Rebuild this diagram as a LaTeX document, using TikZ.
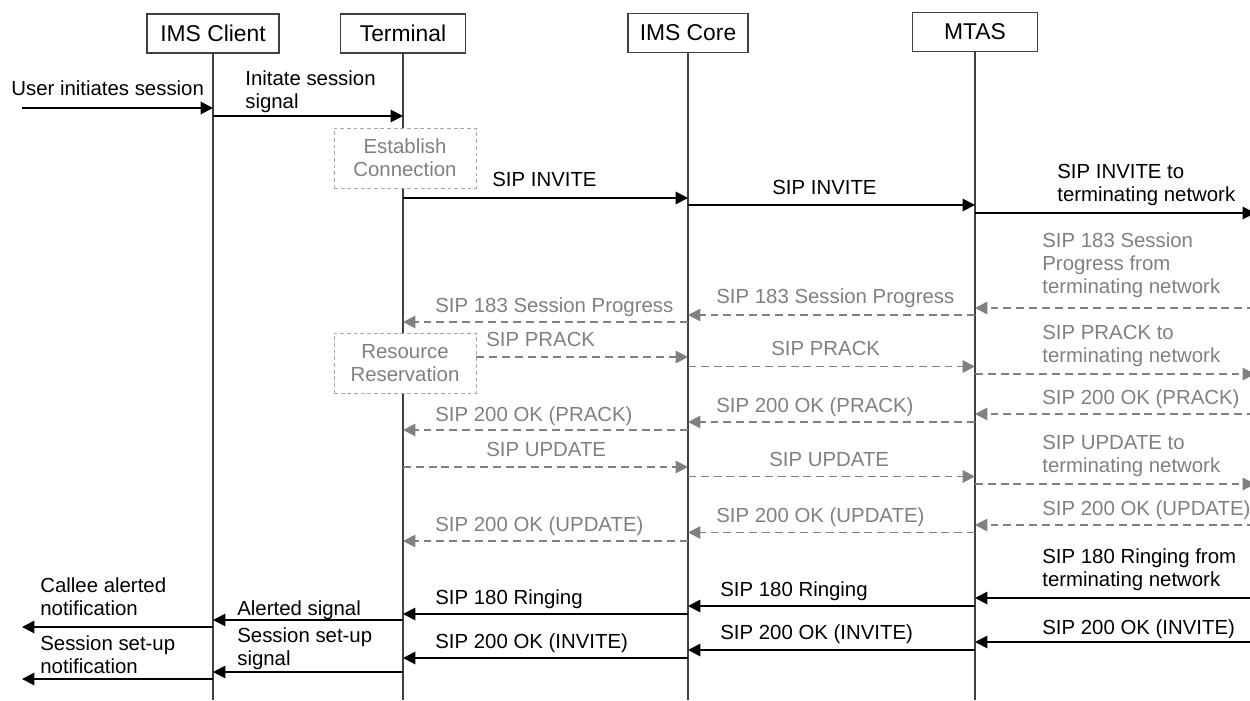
\documentclass[tikz,border=0pt]{standalone}
\usepackage{fontspec}
\setmainfont{Liberation Sans}
\usepackage{xcolor}
\usepackage{tikz}
\usetikzlibrary{calc,arrows.meta}
\definecolor{msggray}{HTML}{808080}
\definecolor{boxgray}{HTML}{A6A6A6}
\tikzset{every picture/.append style={font=\fontsize{11.6}{13.1}\selectfont}}
\tikzset{
  actor/.style={draw=black!75,line width=0.6pt,minimum height=0.78cm,inner sep=0pt,font=\fontsize{13}{15}\selectfont},
  life/.style={draw=black!75,line width=0.6pt},
  msg/.style={draw=black,line width=1.1pt,-{Triangle[length=7pt,width=7pt]}},
  gmsg/.style={draw=msggray,line width=1.1pt,dash pattern=on 4.5pt off 2.8pt,-{Triangle[length=7pt,width=7pt]}},
  lbl/.style={anchor=south west,inner sep=0pt,text depth=0pt,align=left},
  glbl/.style={lbl,text=msggray},
  procbox/.style={draw=boxgray,line width=0.5pt,dash pattern=on 2.2pt off 1.6pt,fill=white,text=msggray,
    align=center,minimum width=2.84cm,minimum height=1.2cm,inner sep=0pt}
}

\begin{document}
\begin{tikzpicture}
    \useasboundingbox (0,0) rectangle (25,-14);
    % lifelines
    \node[actor,minimum width=2.64cm] (client) at (4.26,-0.67) {IMS Client};
    \node[actor,minimum width=2.5cm] (term) at (8.06,-0.67) {Terminal};
    \node[actor,minimum width=2.4cm] (core) at (13.76,-0.66) {IMS Core};
    \node[actor,minimum width=2.5cm] (mtas) at (19.5,-0.64) {MTAS};
    \foreach \n in {client,term,core,mtas}
      \draw[life] (\n.south) -- (\n.south |- 0,-14);
    \coordinate (west) at (0.44,0);
    \coordinate (east) at (25.1,0);

    % session start
    \node[lbl] (l1) at (0.22,-1.92) {User initiates session};
    \draw[msg] (west |- 0,-2.16) -- (client |- 0,-2.16);
    \node[lbl] (l2) at (4.90,-2.18) {Initate session\\signal};
    \draw[msg] (client |- 0,-2.32) -- (term |- 0,-2.32);
    \node[procbox] (conn) at (8.10,-3.16) {Establish\\Connection};
    \node[lbl] (l3) at (9.84,-3.74) {SIP INVITE};
    \draw[msg] (term |- 0,-3.96) -- (core |- 0,-3.96);
    \node[lbl] (l4) at (15.44,-3.90) {SIP INVITE};
    \draw[msg] (core |- 0,-4.10) -- (mtas |- 0,-4.10);
    \node[lbl] (l5) at (21.14,-4.04) {SIP INVITE to\\terminating network};
    \draw[msg] (mtas |- 0,-4.26) -- (east |- 0,-4.26);

    % preconditions (grey)
    \node[glbl] (l6) at (20.84,-5.88) {SIP 183 Session\\Progress from\\terminating network};
    \draw[gmsg] (east |- 0,-6.16) -- (mtas |- 0,-6.16);
    \node[glbl] (l7) at (14.32,-6.08) {SIP 183 Session Progress};
    \draw[gmsg] (mtas |- 0,-6.30) -- (core |- 0,-6.30);
    \node[glbl] (l8) at (8.70,-6.26) {SIP 183 Session Progress};
    \draw[gmsg] (core |- 0,-6.44) -- (term |- 0,-6.44);
    \node[procbox] (resv) at (8.10,-7.26) {Resource\\Reservation};
    \node[glbl] (l9) at (9.72,-6.94) {SIP PRACK};
    \draw[gmsg] (resv.east |- 0,-7.14) -- (core |- 0,-7.14);
    \node[glbl] (l10) at (15.42,-7.12) {SIP PRACK};
    \draw[gmsg] (core |- 0,-7.33) -- (mtas |- 0,-7.33);
    \node[glbl] (l11) at (20.84,-7.26) {SIP PRACK to\\terminating network};
    \draw[gmsg] (mtas |- 0,-7.48) -- (east |- 0,-7.48);
    \node[glbl] (l12) at (20.84,-8.10) {SIP 200 OK (PRACK)};
    \draw[gmsg] (east |- 0,-8.28) -- (mtas |- 0,-8.28);
    \node[glbl] (l13) at (14.32,-8.26) {SIP 200 OK (PRACK)};
    \draw[gmsg] (mtas |- 0,-8.44) -- (core |- 0,-8.44);
    \node[glbl] (l14) at (8.70,-8.44) {SIP 200 OK (PRACK)};
    \draw[gmsg] (core |- 0,-8.60) -- (term |- 0,-8.60);
    \node[glbl] (l15) at (9.72,-9.14) {SIP UPDATE};
    \draw[gmsg] (term |- 0,-9.34) -- (core |- 0,-9.34);
    \node[glbl] (l16) at (15.38,-9.34) {SIP UPDATE};
    \draw[gmsg] (core |- 0,-9.53) -- (mtas |- 0,-9.53);
    \node[glbl] (l17) at (20.84,-9.46) {SIP UPDATE to\\terminating network};
    \draw[gmsg] (mtas |- 0,-9.68) -- (east |- 0,-9.68);
    \node[glbl] (l18) at (20.84,-10.32) {SIP 200 OK (UPDATE)};
    \draw[gmsg] (east |- 0,-10.50) -- (mtas |- 0,-10.50);
    \node[glbl] (l19) at (14.32,-10.46) {SIP 200 OK (UPDATE)};
    \draw[gmsg] (mtas |- 0,-10.65) -- (core |- 0,-10.65);
    \node[glbl] (l20) at (8.70,-10.64) {SIP 200 OK (UPDATE)};
    \draw[gmsg] (core |- 0,-10.82) -- (term |- 0,-10.82);

    % alerting and answer
    \node[lbl] (l21) at (20.84,-11.74) {SIP 180 Ringing from\\terminating network};
    \draw[msg] (east |- 0,-11.96) -- (mtas |- 0,-11.96);
    \node[lbl] (l22) at (14.40,-11.94) {SIP 180 Ringing};
    \draw[msg] (mtas |- 0,-12.12) -- (core |- 0,-12.12);
    \node[lbl] (l23) at (8.70,-12.10) {SIP 180 Ringing};
    \draw[msg] (core |- 0,-12.28) -- (term |- 0,-12.28);
    \node[lbl] (l24) at (4.74,-12.32) {Alerted signal};
    \draw[msg] (term |- 0,-12.40) -- (client |- 0,-12.40);
    \node[lbl] (l25) at (0.80,-12.32) {Callee alerted\\notification};
    \draw[msg] (client |- 0,-12.54) -- (west |- 0,-12.54);
    \node[lbl] (l26) at (20.84,-12.70) {SIP 200 OK (INVITE)};
    \draw[msg] (east |- 0,-12.84) -- (mtas |- 0,-12.84);
    \node[lbl] (l27) at (14.40,-12.80) {SIP 200 OK (INVITE)};
    \draw[msg] (mtas |- 0,-13.00) -- (core |- 0,-13.00);
    \node[lbl] (l28) at (8.70,-12.98) {SIP 200 OK (INVITE)};
    \draw[msg] (core |- 0,-13.16) -- (term |- 0,-13.16);
    \node[lbl] (l29) at (4.74,-13.32) {Session set-up\\signal};
    \draw[msg] (term |- 0,-13.44) -- (client |- 0,-13.44);
    \node[lbl] (l30) at (0.80,-13.48) {Session set-up\\notification};
    \draw[msg] (client |- 0,-13.58) -- (west |- 0,-13.58);
  \end{tikzpicture}
\end{document}
